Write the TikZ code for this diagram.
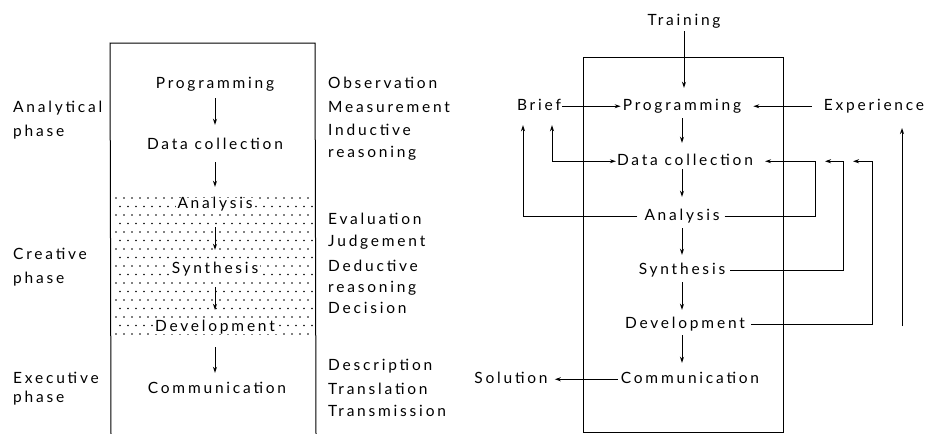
\documentclass[tikz,border=0pt]{standalone}
\usepackage{fontspec}
\setmainfont{Lato}[LetterSpace=18]
\usetikzlibrary{arrows.meta}
\begin{document}
\begin{tikzpicture}[x=1pt,y=-1pt,
  txt/.style={font=\fontsize{15.5}{18}\selectfont, inner sep=0pt, text height=10.5pt, text depth=3pt, anchor=base},
  lbl/.style={txt, anchor=base west},
  ln/.style={line width=1pt},
  arr/.style={ln, -{Stealth[length=6pt,width=4pt]}},
  dbl/.style={ln, {Stealth[length=6pt,width=4pt]}-{Stealth[length=6pt,width=4pt]}},
  sh/.style 2 args={shorten <=#1pt, shorten >=#2pt},
  dotbg/.style={fill=white, inner xsep=2pt}
]
\useasboundingbox (0,0) rectangle (930,434);
% ---------- left panel ----------
\draw[ln] (111,434) -- (110,43) -- (315,43) -- (316,434);
\foreach \r in {0,...,16}{
  \pgfmathsetmacro{\yy}{198+8.5*\r}
  \pgfmathsetmacro{\off}{mod(\r,2)*4}
  \foreach \c in {0,...,24}{
    \fill ({116+\off+8*\c},\yy) circle (0.95pt);
  }
}
\node[txt] (l1) at (215,88) {Programming};
\node[txt] (l2) at (215,149) {Data collection};
\node[txt,dotbg] (l3) at (215,208) {Analysis};
\node[txt,dotbg] (l4) at (215,273) {Synthesis};
\node[txt,dotbg] (l5) at (215,331) {Development};
\node[txt] (l6) at (217,393) {Communication};
\draw[arr,sh={7}{13.5}] (l1) -- (l2);
\draw[arr,sh={10}{10.5}] (l2) -- (l3);
\draw[arr,sh={16}{12.5}] (l3) -- (l4);
\draw[arr,sh={11}{10.5}] (l4) -- (l5);
\draw[arr,sh={13}{9.5}] (l5.south) -- (l5.south |- l6.north);

\node[lbl] (pa1) at (13,112) {Analytical};
\node[lbl] (pa2) at (13,136) {phase};
\node[lbl] (pc1) at (13,259) {Creative};
\node[lbl] (pc2) at (13,283) {phase};
\node[lbl] (pe1) at (13,383) {Executive};
\node[lbl] (pe2) at (13,402) {phase};

\node[lbl] (o1) at (328,88) {Observation};
\node[lbl] (o2) at (328,112) {Measurement};
\node[lbl] (o3) at (328,135) {Inductive};
\node[lbl] (o4) at (328,157) {reasoning};
\node[lbl] (e1) at (328,224) {Evaluation};
\node[lbl] (e2) at (328,246) {Judgement};
\node[lbl] (e3) at (328,271) {Deductive};
\node[lbl] (e4) at (328,292) {reasoning};
\node[lbl] (e5) at (328,313) {Decision};
\node[lbl] (d1) at (328,370) {Description};
\node[lbl] (d2) at (328,394) {Translation};
\node[lbl] (d3) at (328,416) {Transmission};

% ---------- right panel ----------
\draw[ln] (583,57) rectangle (783,432);
\node[txt] (tr) at (684,25) {Training};
\node[txt] (rp) at (682,110) {Programming};
\node[txt] (br) at (539,110) {Brief};
\node[txt] (ex) at (874,110) {Experience};
\node[txt] (rd) at (685,165) {Data collection};
\node[txt] (ra) at (682,220) {Analysis};
\node[txt] (rs) at (682,274) {Synthesis};
\node[txt] (rv) at (685,328) {Development};
\node[txt] (rc) at (690,383) {Communication};
\node[txt] (so) at (511,383) {Solution};

\draw[arr,sh={3}{11.5}] (tr.south) -- (tr.south |- rp.north);
\draw[arr,sh={5}{11.5}] (rp.south) -- (rp.south |- rd.north);
\draw[arr,sh={1}{12.5}] (rp.south |- rd.south) -- (rp.south |- ra.north);
\draw[arr,sh={5}{8.5}] (rp.south |- ra.south) -- (rp.south |- rs.north);
\draw[arr,sh={5}{7.5}] (rp.south |- rs.south) -- (rp.south |- rv.north);
\draw[arr,sh={4}{9.5}] (rp.south |- rv.south) -- (rp.south |- rc.north);

\draw[arr,sh={1}{2}] (br) -- (rp);
\draw[arr,sh={12}{12}] (ex) -- (rp);
\draw[arr,sh={3}{7}] (rc) -- (so);

\draw[dbl,sh={12}{1}] ([xshift=13pt]br.south) |- (rd.west);
\draw[arr,sh={7}{12}] (ra.west) -| ([xshift=-16pt]br.south);

\coordinate (k1) at (815,161.25);
\coordinate (k2) at (843,161.25);
\coordinate (t2) at (825,161.25);
\coordinate (k3) at (872,161.25);
\coordinate (t3) at (853,161.25);
\draw[arr,sh={5}{12}] (ra.east) -| (k1) -- (rd.east);
\draw[arr,sh={5}{0}] (rs.east) -| (k2) -- (t2);
\draw[arr,sh={6}{0}] (rv.east) -| (k3) -- (t3);

\coordinate (x1) at (902,326);
\coordinate (x2) at (902,128);
\draw[arr] (x1) -- (x2);
\end{tikzpicture}
\end{document}
